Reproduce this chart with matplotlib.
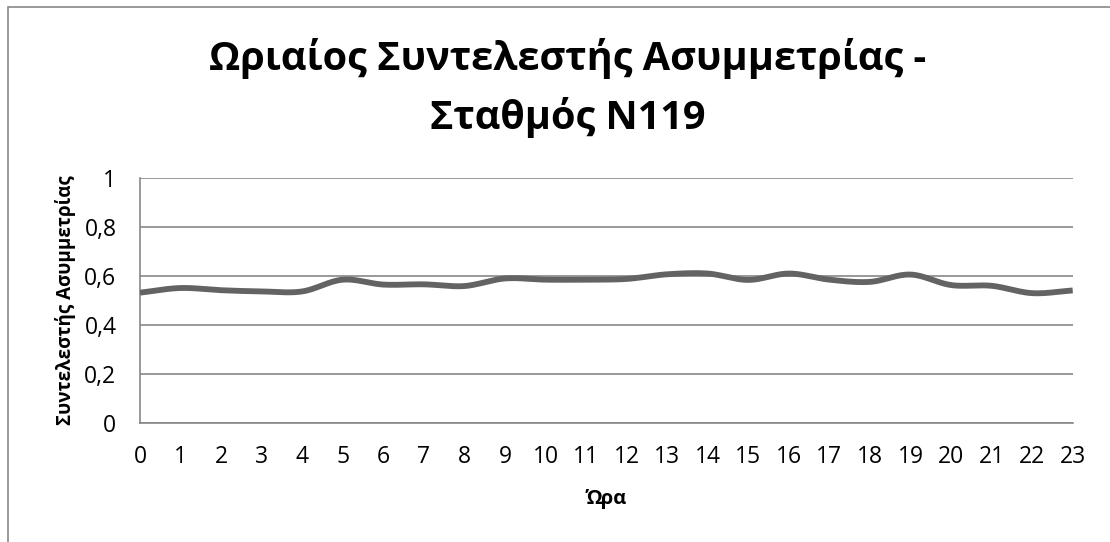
import numpy as np
import matplotlib
matplotlib.use("Agg")
import matplotlib.pyplot as plt
from matplotlib.patches import Rectangle
from matplotlib.ticker import FuncFormatter

plt.rcParams["font.family"] = ["Open Sans", "DejaVu Sans"]

hours = list(range(24))
skew = [0.532, 0.551, 0.542, 0.537, 0.537, 0.585, 0.565, 0.566, 0.559, 0.590,
        0.585, 0.585, 0.588, 0.607, 0.610, 0.584, 0.610, 0.585, 0.576, 0.606,
        0.563, 0.560, 0.530, 0.541]
y_ticks = [0, 0.2, 0.4, 0.6, 0.8, 1]

title = "Ωριαίος Συντελεστής Ασυμμετρίας -\nΣταθμός N119"
x_label = "Ώρα"
y_label = "Συντελεστής Ασυμμετρίας"


def catmull_rom(x, y, steps=20):
    # smooth line like Excel's "smoothed line" option
    x = np.asarray(x, float)
    y = np.asarray(y, float)
    px = np.concatenate([[2 * x[0] - x[1]], x, [2 * x[-1] - x[-2]]])
    py = np.concatenate([[2 * y[0] - y[1]], y, [2 * y[-1] - y[-2]]])
    out_x, out_y = [], []
    t = np.linspace(0, 1, steps, endpoint=False)
    for i in range(1, len(px) - 2):
        for p, out in ((px, out_x), (py, out_y)):
            p0, p1, p2, p3 = p[i - 1], p[i], p[i + 1], p[i + 2]
            out.extend(0.5 * (2 * p1 + (-p0 + p2) * t
                              + (2 * p0 - 5 * p1 + 4 * p2 - p3) * t ** 2
                              + (-p0 + 3 * p1 - 3 * p2 + p3) * t ** 3))
    out_x.append(x[-1])
    out_y.append(y[-1])
    return np.array(out_x), np.array(out_y)


fig = plt.figure(figsize=(11.1, 5.42), dpi=100)
fig.patches.append(Rectangle((8 / 1110, -0.1), 1.2, 1 - 7 / 542 + 0.1,
                             transform=fig.transFigure, fill=False,
                             edgecolor="#878787", linewidth=1.2))

ax = fig.add_axes([140 / 1110, 1 - 423 / 542, (1072.7 - 140) / 1110, (423 - 178) / 542])
sx, sy = catmull_rom(hours, skew)
ax.plot(sx, sy, color="#636363", linewidth=4.2, solid_capstyle="butt", zorder=3)

ax.set_xlim(0, 23)
ax.set_ylim(0, 1)
ax.set_xticks(hours)
ax.set_yticks(y_ticks)
ax.yaxis.set_major_formatter(FuncFormatter(lambda v, p: f"{v:g}".replace(".", ",")))
ax.tick_params(length=0, labelsize=16.5, colors="black")
ax.tick_params(axis="x", pad=16)
ax.tick_params(axis="y", pad=17)
ax.grid(axis="y", color="#878787", linewidth=1.2)
for side in ("top", "right"):
    ax.spines[side].set_visible(False)
for side in ("left", "bottom"):
    ax.spines[side].set_color("#878787")
    ax.spines[side].set_linewidth(1.2)

ax.set_xlabel(x_label, fontsize=14.5, fontweight="bold", labelpad=14)
ax.set_ylabel(y_label, fontsize=13.5, fontweight="bold", labelpad=6)
fig.text(568 / 1110, 1 - 88 / 542, title, ha="center", va="center",
         fontsize=28.5, fontweight="bold", linespacing=1.55)

fig.savefig("out.png", dpi=100)
